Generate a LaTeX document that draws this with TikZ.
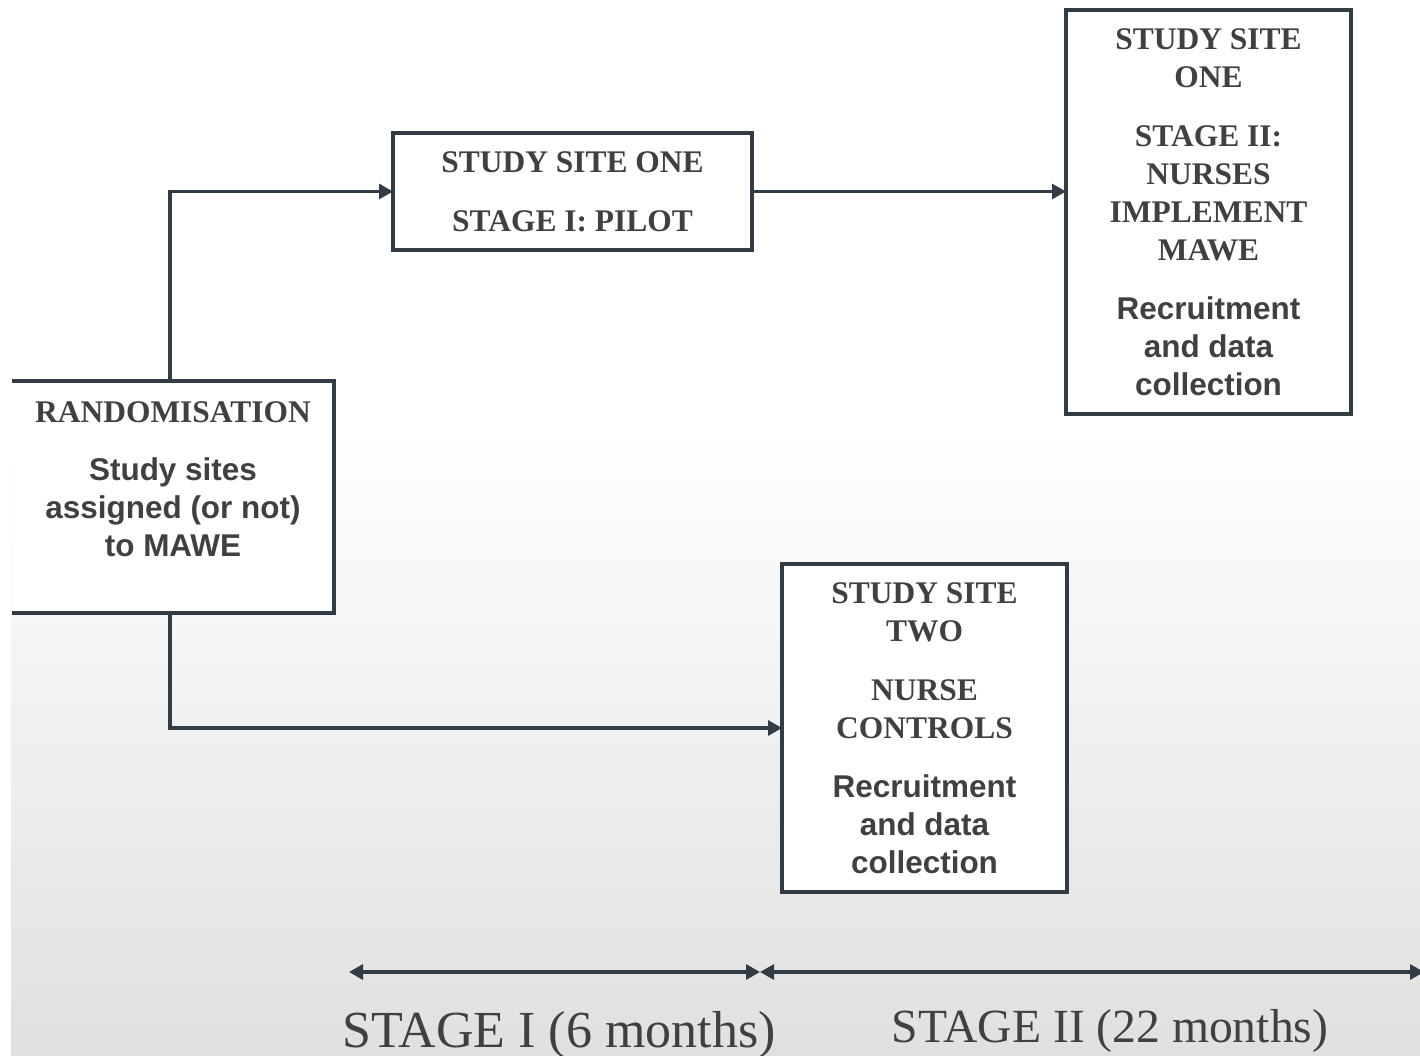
\documentclass[tikz,border=0pt]{standalone}
\usepackage{fontspec}
\setmainfont{Liberation Serif}
\newfontfamily\ssf{Liberation Sans}
\usetikzlibrary{arrows.meta,calc}
\definecolor{linec}{RGB}{50,60,68}
\definecolor{textc}{RGB}{64,64,64}
\definecolor{bgbot}{RGB}{224,224,224}
\begin{document}
\begin{tikzpicture}[x=0.75pt,y=-0.75pt,
  boxshape/.style={fill=white,draw=linec,line width=2.3pt,inner sep=0pt,outer sep=0pt},
  boxtext/.style={text=textc,align=center,inner sep=0pt,
    font=\fontsize{23.6}{28.5}\selectfont\bfseries},
  conn/.style={draw=linec,line width=2.3pt,-{Triangle[length=10.5pt,width=11.25pt]}},
  tline/.style={draw=linec,line width=2.3pt,{Triangle[length=10.5pt,width=11.25pt]}-{Triangle[length=10.5pt,width=11.25pt]}},
  stagelab/.style={text=textc,inner sep=0pt,anchor=base}
]
\useasboundingbox (0,0) rectangle (1420,1056);
\fill[white] (0,0) rectangle (1420,1056);
\shade[top color=white,bottom color=bgbot] (11,430) rectangle (1420,1056);

% boxes
\node[fill=white,inner sep=0pt,outer sep=0pt,minimum width=322*0.75pt,minimum height=232*0.75pt] (rand) at (173,497) {};
\draw[draw=linec,line width=2.3pt] (rand.north west) -- (rand.north east) -- (rand.south east) -- (rand.south west);
\node[boxshape,minimum width=359*0.75pt,minimum height=117*0.75pt] (pilot) at (572.5,191.5) {};
\node[boxshape,minimum width=285*0.75pt,minimum height=404*0.75pt] (s2) at (1208.5,212) {};
\node[boxshape,minimum width=285*0.75pt,minimum height=328*0.75pt] (ctrl) at (924.5,728) {};

% texts
\node[boxtext] (randt) at (173,479) {RANDOMISATION\\[15pt]
  \ssf Study sites\\ \ssf assigned (or not)\\ \ssf to MAWE};
\node[boxtext] (pilott) at (pilot.center) {STUDY SITE ONE\\[15.75pt]STAGE I: PILOT};
\node[boxtext] (s2t) at (s2.center) {STUDY SITE\\ONE\\[15.75pt]STAGE II:\\NURSES\\IMPLEMENT\\MAWE\\[15.75pt]
  \ssf Recruitment\\ \ssf and data\\ \ssf collection};
\node[boxtext] (ctrlt) at (ctrl.center) {STUDY SITE\\TWO\\[15.75pt]NURSE\\CONTROLS\\[15.75pt]
  \ssf Recruitment\\ \ssf and data\\ \ssf collection};

% connectors
\coordinate (rn) at ($(rand.north)+(-3,0)$);
\coordinate (rs) at ($(rand.south)+(-3,0)$);
\draw[conn] (rn) |- (pilot.west);
\draw[conn] (pilot.east) -- (pilot.east -| s2.west);
\draw[conn] (rs) |- (ctrl.west);

% timeline
\coordinate (tl) at (349,972);
\coordinate (tm) at (760,972);
\coordinate (tr) at (1424,972);
\draw[tline] (tl) -- (tm);
\draw[tline] (tm) -- (tr);

\node[stagelab,font=\fontsize{39}{44}\selectfont] (lab1) at (559,1047) {STAGE I (6 months)};
\node[stagelab,font=\fontsize{35.7}{40}\selectfont] (lab2) at (1110,1042) {STAGE II (22 months)};
\end{tikzpicture}
\end{document}
